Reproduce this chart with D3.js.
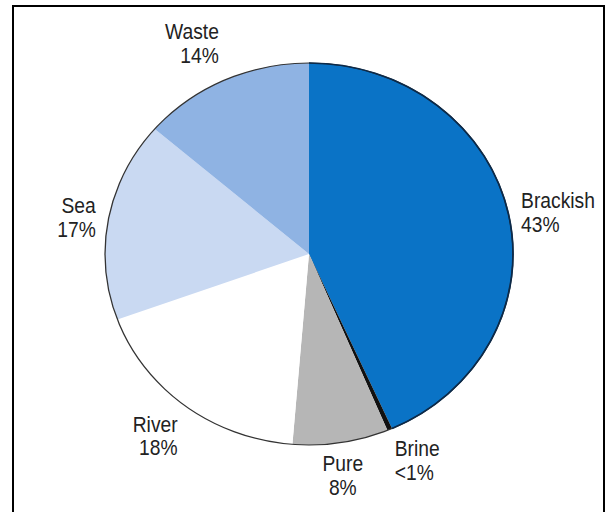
<!DOCTYPE html>
<html>
<head>
<meta charset="utf-8">
<script src="https://cdn.jsdelivr.net/npm/d3@7"></script>
<style>
  body { margin: 0; background: #fff; }
  text { font-family: "Liberation Sans", Arial, sans-serif; font-size: 22px; fill: #222; }
</style>
</head>
<body>
<svg id="chart" width="610" height="512"></svg>
<script>
// slices, clockwise from 12 o'clock
const sources = ["Brackish", "Brine", "Pure", "River", "Sea", "Waste"];
const shares = [43.5, 0.4, 7.6, 18.2, 17, 13.7];
const shareLabels = ["43%", "<1%", "8%", "18%", "17%", "14%"];
const colours = ["#0a73c6", "#111111", "#b6b6b6", "#ffffff", "#c9d9f2", "#8fb3e3"];

const svg = d3.select("#chart");

// frame
svg.append("rect")
  .attr("x", 13).attr("y", 6)
  .attr("width", 591).attr("height", 530)
  .attr("fill", "none").attr("stroke", "#000").attr("stroke-width", 2);

const cx = 309, cy = 254, r = 191;
const sx = 204 / 191;   // the picture is a little wider than tall
const narrow = 0.82;    // condensed lettering

const pieData = d3.pie().sort(null).value(d => d)(shares);
const arc = d3.arc().innerRadius(0).outerRadius(r);

const g = svg.append("g")
  .attr("transform", `translate(${cx},${cy}) scale(${sx},1)`);

g.selectAll("path.slice")
  .data(pieData)
  .join("path")
  .attr("class", "slice")
  .attr("d", arc)
  .attr("fill", (d, i) => colours[i]);

// dark rim round the whole pie, a bit heavier on the brackish edge
g.append("path")
  .attr("d", d3.arc().innerRadius(r).outerRadius(r).startAngle(0).endAngle(2 * Math.PI)())
  .attr("fill", "none").attr("stroke", "#333").attr("stroke-width", 1.2);
g.append("path")
  .attr("d", d3.arc().innerRadius(r).outerRadius(r).startAngle(pieData[0].startAngle).endAngle(pieData[0].endAngle)())
  .attr("fill", "none").attr("stroke", "#0b2a4a").attr("stroke-width", 1.6);

// labels
const gap = 12, lineH = 24;
pieData.forEach((d, i) => {
  const a = (d.startAngle + d.endAngle) / 2;
  const s = Math.sin(a), c = Math.cos(a);
  const x = cx + (r + gap) * s * sx;
  const y = cy - (r + gap) * c;
  const anchor = s > 0.25 ? "start" : (s < -0.25 ? "end" : "middle");
  let base;
  if (c > 0.5) base = y - 6 - lineH;
  else if (c < -0.5) base = y + 16;
  else base = y - 4;
  const t = svg.append("text")
    .attr("text-anchor", anchor)
    .attr("transform", `translate(${x},${base}) scale(${sx * narrow},1)`);
  t.append("tspan").attr("x", 0).attr("y", 0).text(sources[i]);
  t.append("tspan").attr("x", 0).attr("y", lineH).text(shareLabels[i]);
});
</script>
</body>
</html>
